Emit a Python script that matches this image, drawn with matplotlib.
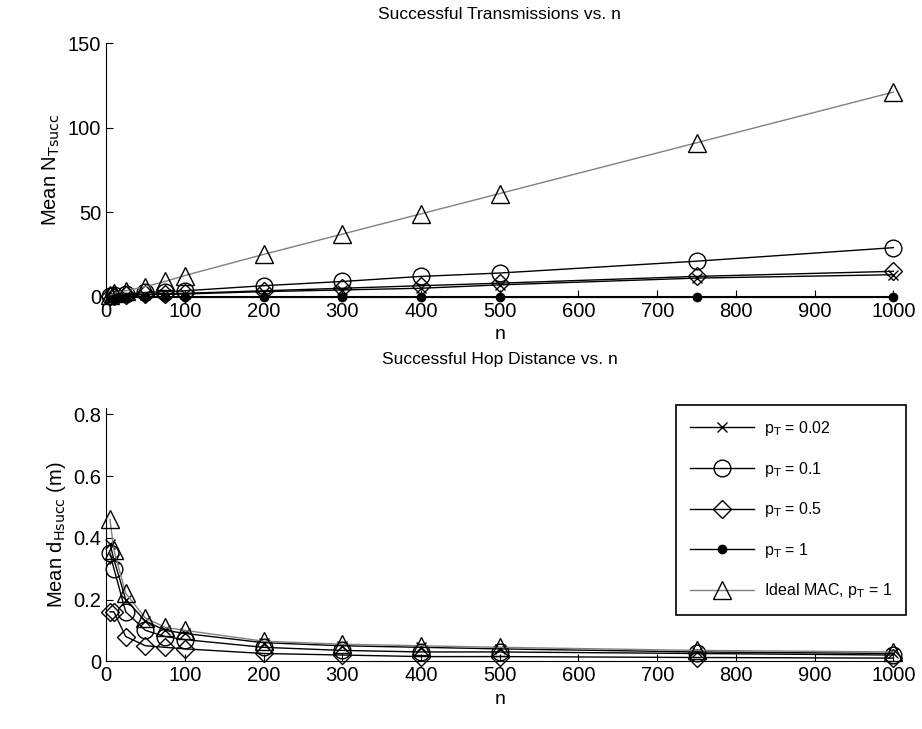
import numpy as np
import matplotlib.pyplot as plt

plt.rcParams['font.family'] = ['Liberation Sans', 'DejaVu Sans']

n = [5, 10, 25, 50, 75, 100, 200, 300, 400, 500, 750, 1000]

# Mean N_Tsucc (top panel)
ntx_002 = [0.3, 0.6, 1.0, 1.2, 1.4, 1.6, 3.0, 4.0, 5.0, 7.0, 11.0, 13.0]
ntx_01 = [0.5, 1.0, 1.5, 2.5, 3.0, 3.5, 6.5, 9.0, 12.0, 14.0, 21.0, 29.0]
ntx_05 = [0.4, 0.7, 1.0, 1.5, 1.8, 2.0, 3.5, 5.0, 6.5, 8.0, 12.0, 15.0]
ntx_1 = [0, 0, 0, 0, 0, 0, 0, 0, 0, 0, 0, 0]
ntx_ideal = [1.0, 2.0, 3.5, 6.0, 9.0, 12.5, 25.0, 37.0, 49.0, 61.0, 91.0, 121.0]

# Mean d_Hsucc (bottom panel)
dh_002 = [0.38, 0.33, 0.20, 0.13, 0.10, 0.09, 0.06, 0.05, 0.045, 0.04, 0.03, 0.025]
dh_01 = [0.35, 0.30, 0.16, 0.10, 0.08, 0.07, 0.045, 0.035, 0.03, 0.03, 0.025, 0.02]
dh_05 = [0.16, 0.16, 0.08, 0.05, 0.045, 0.04, 0.025, 0.02, 0.015, 0.015, 0.012, 0.01]
dh_ideal = [0.46, 0.36, 0.22, 0.14, 0.11, 0.10, 0.065, 0.055, 0.05, 0.045, 0.035, 0.03]

labels = ['p$_\\mathrm{T}$ = 0.02', 'p$_\\mathrm{T}$ = 0.1', 'p$_\\mathrm{T}$ = 0.5',
          'p$_\\mathrm{T}$ = 1', 'Ideal MAC, p$_\\mathrm{T}$ = 1']

fig = plt.figure(figsize=(9.22, 7.29), dpi=100)
ax1 = fig.add_axes([0.115, 0.593, 0.854, 0.348])
ax2 = fig.add_axes([0.115, 0.093, 0.854, 0.347])


def style(ax):
    ax.spines['top'].set_visible(False)
    ax.spines['right'].set_visible(False)
    ax.tick_params(direction='in', labelsize=14.5, length=5)
    ax.set_xlim(0, 1000)
    ax.set_xticks(np.arange(0, 1001, 100))
    ax.set_xlabel('n', fontsize=14)


mk = dict(mfc='none', mec='black', mew=1.0, clip_on=False)
ax1.plot(n, ntx_002, '-x', color='black', lw=1, ms=7, label=labels[0], **mk)
ax1.plot(n, ntx_01, '-o', color='black', lw=1, ms=12, label=labels[1], **mk)
ax1.plot(n, ntx_05, '-D', color='black', lw=1, ms=9, label=labels[2], **mk)
ax1.plot(n, ntx_1, '-o', color='black', lw=1.5, ms=6, mfc='black', mec='black',
         clip_on=False, label=labels[3])
ax1.plot(n, ntx_ideal, '-^', color='gray', lw=1, ms=13, label=labels[4], **mk)
style(ax1)
ax1.set_ylim(0, 150)
ax1.set_yticks([0, 50, 100, 150])
ax1.set_ylabel('Mean N$_\\mathrm{Tsucc}$', fontsize=14.5)
ax1.set_title('Successful Transmissions vs. n', fontsize=12.5, pad=17)

ax2.plot(n, dh_002, '-x', color='black', lw=1, ms=7, label=labels[0], **mk)
ax2.plot(n, dh_01, '-o', color='black', lw=1, ms=12, label=labels[1], **mk)
ax2.plot(n, dh_05, '-D', color='black', lw=1, ms=9, label=labels[2], **mk)
ax2.plot([], [], '-o', color='black', lw=1, ms=6, mfc='black', mec='black',
         label=labels[3])
ax2.plot(n, dh_ideal, '-^', color='gray', lw=1, ms=13, label=labels[4], **mk)
style(ax2)
ax2.set_ylim(0, 0.82)
ax2.set_yticks([0, 0.2, 0.4, 0.6, 0.8])
ax2.set_yticklabels(['0', '0.2', '0.4', '0.6', '0.8'])
ax2.set_ylabel('Mean d$_\\mathrm{Hsucc}$ (m)', fontsize=14.5)
ax2.set_title('Successful Hop Distance vs. n', fontsize=12.5, pad=32)

leg = ax2.legend(loc='upper right', bbox_to_anchor=(0.983, 0.445),
                 bbox_transform=fig.transFigure, fontsize=11.5, handlelength=4,
                 handletextpad=0.6, labelspacing=1.35, borderpad=0.9,
                 borderaxespad=0, fancybox=False, edgecolor='black',
                 framealpha=1)
leg.get_frame().set_linewidth(1.2)

fig.savefig('out.png', dpi=100)
